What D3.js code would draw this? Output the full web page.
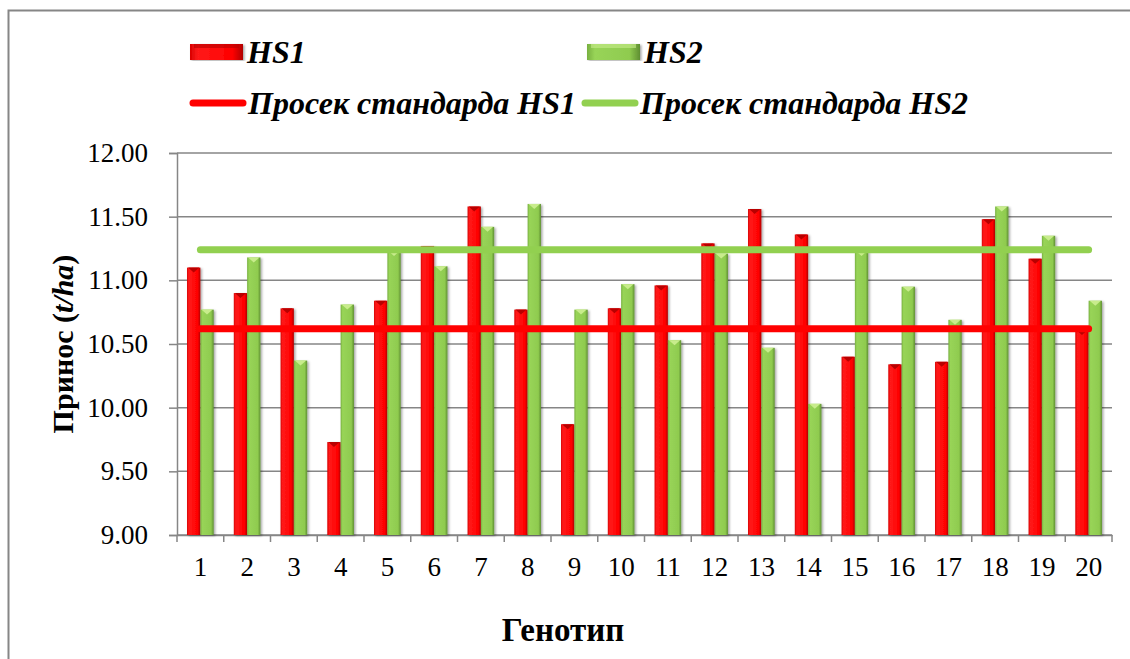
<!DOCTYPE html>
<html>
<head>
<meta charset="utf-8">
<script src="https://cdn.jsdelivr.net/npm/d3@7"></script>
<style>
  body { margin: 0; background: #fff; }
  text { font-family: "Liberation Serif", "Times New Roman", serif; }
</style>
</head>
<body>
<svg id="chart" width="1130" height="659"></svg>
<script>
var categories = ["1","2","3","4","5","6","7","8","9","10","11","12","13","14","15","16","17","18","19","20"];
var hs1 = [11.10, 10.90, 10.78, 9.73, 10.84, 11.27, 11.58, 10.77, 9.87, 10.78, 10.96, 11.29, 11.56, 11.36, 10.40, 10.34, 10.36, 11.48, 11.17, 10.61];
var hs2 = [10.77, 11.18, 10.37, 10.81, 11.23, 11.11, 11.42, 11.60, 10.77, 10.97, 10.53, 11.21, 10.47, 10.03, 11.23, 10.95, 10.69, 11.58, 11.35, 10.84];
var hs1Std = 10.62, hs2Std = 11.24;
var yTicks = [9.00, 9.50, 10.00, 10.50, 11.00, 11.50, 12.00];
var seriesNames = ["HS1", "HS2"];
var lineNames = ["Просек стандарда HS1", "Просек стандарда HS2"];

var svg = d3.select("#chart");
var grey = "#868686";

// frame
svg.append("rect").attr("x", 8.5).attr("y", 10.5).attr("width", 1140).attr("height", 700)
  .attr("fill", "none").attr("stroke", grey).attr("stroke-width", 2);

var plotLeft = 177, plotRight = 1112, plotTop = 153, plotBottom = 535;

// gradients
var defs = svg.append("defs");
function grad(id, stops) {
  var g = defs.append("linearGradient").attr("id", id).attr("x1", "0").attr("x2", "1").attr("y1", "0").attr("y2", "0");
  stops.forEach(function (s) { g.append("stop").attr("offset", s[0]).attr("stop-color", s[1]); });
}
grad("gRed", [[0, "#d80000"], [0.15, "#ff1a1a"], [0.8, "#ff0000"], [1, "#b00000"]]);
grad("gGreen", [[0, "#78b040"], [0.15, "#98d458"], [0.8, "#8fcb4f"], [1, "#5f8f32"]]);
var f = defs.append("filter").attr("id", "shadow").attr("x", "-50%").attr("y", "-5%").attr("width", "200%").attr("height", "110%");
f.append("feDropShadow").attr("dx", 1.5).attr("dy", 1).attr("stdDeviation", 1.2).attr("flood-color", "#000").attr("flood-opacity", 0.35);

var x0 = d3.scaleBand().domain(categories).range([plotLeft, plotRight]);
var x1 = d3.scaleBand().domain(seriesNames)
  .range([x0.bandwidth() * 0.215, x0.bandwidth() * 0.785]);
var y = d3.scaleLinear().domain([9, 12]).range([plotBottom, plotTop]);

// gridlines
svg.append("g").selectAll("line").data(yTicks).join("line")
  .attr("x1", plotLeft).attr("x2", plotRight)
  .attr("y1", function (d) { return y(d); }).attr("y2", function (d) { return y(d); })
  .attr("stroke", grey).attr("stroke-width", 1.5);

// y axis
var yAxis = svg.append("g").attr("transform", "translate(" + plotLeft + ",0)")
  .call(d3.axisLeft(y).tickValues(yTicks).tickSize(8).tickPadding(21).tickFormat(d3.format(".2f")));
yAxis.select(".domain").attr("stroke", grey).attr("stroke-width", 1.5);
yAxis.selectAll(".tick line").attr("stroke", grey).attr("stroke-width", 1.5);
yAxis.selectAll("text").attr("font-size", 27).attr("fill", "#000")
  .style("font-family", "Liberation Serif");

// x axis
var xAxis = svg.append("g").attr("transform", "translate(0," + plotBottom + ")")
  .call(d3.axisBottom(x0).tickSize(0).tickPadding(22));
xAxis.select(".domain").attr("stroke", grey).attr("stroke-width", 1.5);
xAxis.selectAll("text").attr("font-size", 27).attr("fill", "#000")
  .style("font-family", "Liberation Serif");
// category boundary ticks
svg.append("g").selectAll("line").data(categories.concat(["end"])).join("line")
  .attr("x1", function (d, i) { return plotLeft + i * x0.step(); })
  .attr("x2", function (d, i) { return plotLeft + i * x0.step(); })
  .attr("y1", plotBottom).attr("y2", plotBottom + 7)
  .attr("stroke", grey).attr("stroke-width", 1.5);

// bars
var seriesData = [hs1, hs2];
var fills = ["url(#gRed)", "url(#gGreen)"];
var tipColors = ["#b80000", "#c8ec8c"];
seriesData.forEach(function (vals, s) {
  var g = svg.append("g");
  var bw = x1.bandwidth();
  g.selectAll("rect").data(vals).join("rect")
    .attr("x", function (d, i) { return x0(categories[i]) + x1(seriesNames[s]); })
    .attr("y", function (d) { return y(d); })
    .attr("width", bw)
    .attr("height", function (d) { return y(9) - y(d); })
    .attr("fill", fills[s])
    .attr("filter", "url(#shadow)");
  g.selectAll("path").data(vals).join("path")
    .attr("d", function (d, i) {
      var bx = x0(categories[i]) + x1(seriesNames[s]), by = y(d);
      return "M" + (bx + 1) + "," + by + "L" + (bx + bw - 1) + "," + by + "L" + (bx + bw / 2) + "," + (by + 5) + "Z";
    })
    .attr("fill", tipColors[s]);
});

// standard lines
var line = d3.line().x(function (d) { return d[0]; }).y(function (d) { return y(d[1]); });
var first = x0(categories[0]) + x0.bandwidth() / 2;
var last = x0(categories[categories.length - 1]) + x0.bandwidth() / 2;
[[hs1Std, "#ff0000"], [hs2Std, "#92d050"]].forEach(function (l) {
  svg.append("path").attr("d", line([[first, l[0]], [last, l[0]]]))
    .attr("stroke", l[1]).attr("stroke-width", 7).attr("stroke-linecap", "round").attr("fill", "none");
});

// legend
var lg = svg.append("g");
var legendBars = [{ x: 190, fill: "url(#gRed)", tip: tipColors[0], label: seriesNames[0] },
                  { x: 587, fill: "url(#gGreen)", tip: tipColors[1], label: seriesNames[1] }];
legendBars.forEach(function (b) {
  lg.append("rect").attr("x", b.x).attr("y", 44).attr("width", 53).attr("height", 16)
    .attr("fill", b.fill).attr("filter", "url(#shadow)");
  lg.append("rect").attr("x", b.x + 4).attr("y", 44).attr("width", 45).attr("height", 4)
    .attr("fill", b.tip).attr("opacity", 0.6);
  lg.append("text").attr("x", b.x + 57).attr("y", 63).text(b.label)
    .attr("font-size", 32).attr("font-weight", "bold").attr("font-style", "italic");
});
var legendLines = [{ x: 190, color: "#ff0000", label: lineNames[0] },
                   { x: 582, color: "#92d050", label: lineNames[1] }];
legendLines.forEach(function (b) {
  lg.append("line").attr("x1", b.x + 3).attr("x2", b.x + 53).attr("y1", 103).attr("y2", 103)
    .attr("stroke", b.color).attr("stroke-width", 7).attr("stroke-linecap", "round");
  lg.append("text").attr("x", b.x + 58).attr("y", 114).text(b.label)
    .attr("font-size", 32).attr("font-weight", "bold").attr("font-style", "italic");
});

// axis titles
svg.append("text").attr("transform", "translate(73," + ((plotTop + plotBottom) / 2) + ") rotate(-90)")
  .attr("text-anchor", "middle").attr("font-size", 30).attr("font-weight", "bold")
  .html('Принос (<tspan font-style="italic">t/ha</tspan>)');
svg.append("text").attr("x", 563).attr("y", 641).attr("text-anchor", "middle")
  .attr("font-size", 33).attr("font-weight", "bold").text("Генотип");
</script>
</body>
</html>
